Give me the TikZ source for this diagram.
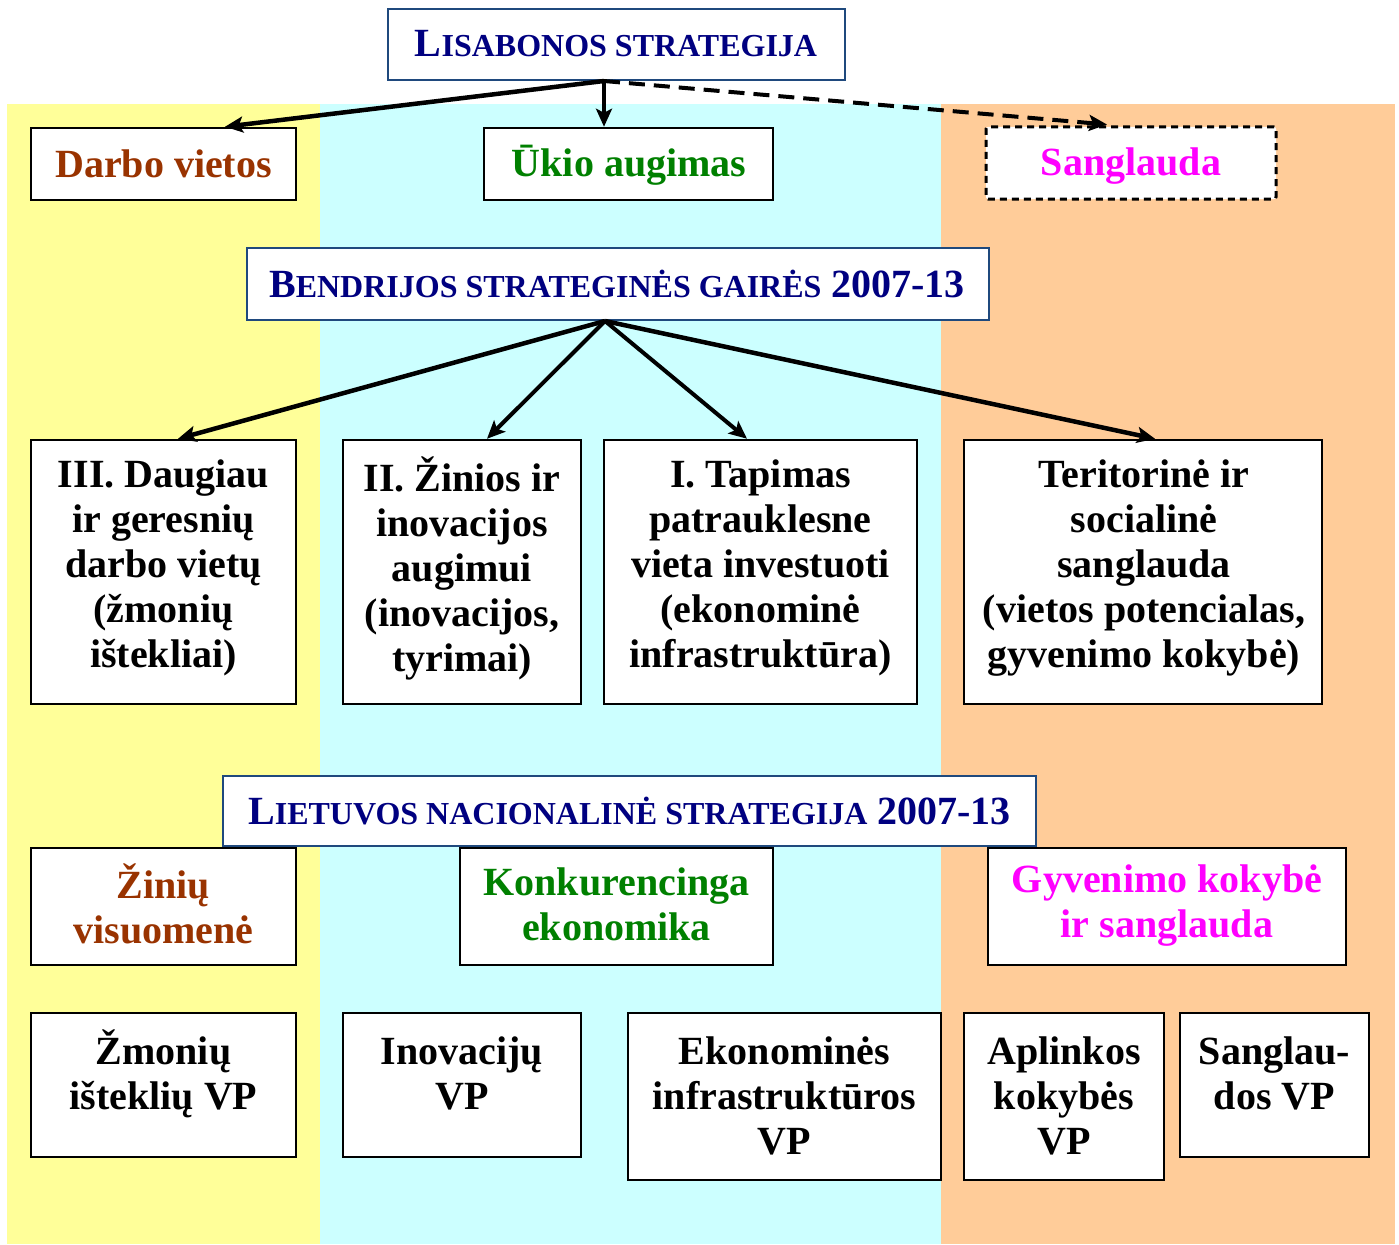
\documentclass[tikz,border=0pt]{standalone}
\usepackage{fontspec}
\setmainfont{Liberation Serif}
\usetikzlibrary{arrows.meta}
\definecolor{bgy}{RGB}{255,255,153}
\definecolor{bgc}{RGB}{204,255,255}
\definecolor{bgo}{RGB}{255,204,153}
\definecolor{navyt}{RGB}{0,0,128}
\definecolor{tbord}{RGB}{31,73,125}
\definecolor{brn}{RGB}{153,51,0}
\definecolor{grn}{RGB}{0,128,0}
\definecolor{mag}{RGB}{255,0,255}
\newcommand\scT[1]{{\fontsize{32}{32}\selectfont #1}}
\newcommand\bx[6]{\node[#1, minimum width={#4-#2}, minimum height={#5-#3}] (#6) at ({(#2+#4)/2},{(#3+#5)/2}) {};}
\begin{document}
\begin{tikzpicture}[x=1pt,y=-1pt,
 box/.style={draw=black, line width=2.5pt, fill=white, inner sep=0pt},
 tbox/.style={draw=tbord, line width=2pt, fill=white, inner sep=0pt},
 dbox/.style={draw=black, line width=3pt, fill=white, inner sep=0pt, dash pattern=on 7pt off 5pt, rounded corners=2pt},
 txt/.style={font=\fontsize{40}{45}\selectfont\bfseries, align=center, inner sep=0pt},
 ttl/.style={font=\fontsize{40}{45}\selectfont\bfseries, text=navyt, inner sep=0pt},
 arr/.style={line width=4.5pt, -{Stealth[length=18pt,width=16pt,inset=4pt]}},
]
\useasboundingbox (0,0) rectangle (1399,1244);
\fill[white] (0,0) rectangle (1399,1244);
% background bands
\fill[bgy] (7,104) rectangle (320,1244);
\fill[bgc] (320,104) rectangle (941,1244);
\fill[bgo] (941,104) rectangle (1395,1244);

% boxes
\bx{tbox}{388}{9}{845}{80}{lis}
\bx{box}{31}{128}{296}{200}{darbo}
\bx{box}{484}{128}{773}{200}{ukio}
\bx{dbox}{986}{127}{1276}{199}{sang}
\bx{tbox}{247}{248}{989}{320}{bend}
\bx{box}{31}{440}{296}{704}{iii}
\bx{box}{343}{440}{581}{704}{ii}
\bx{box}{604}{440}{917}{704}{ione}
\bx{box}{964}{440}{1322}{704}{teri}
\bx{tbox}{223}{776}{1036}{846}{liet}
\bx{box}{31}{848}{296}{965}{zin}
\bx{box}{460}{848}{773}{965}{konk}
\bx{box}{988}{848}{1346}{965}{gyv}
\bx{box}{31}{1013}{296}{1157}{zmon}
\bx{box}{343}{1013}{581}{1157}{inov}
\bx{box}{628}{1013}{941}{1180}{ekon}
\bx{box}{964}{1013}{1164}{1180}{apl}
\bx{box}{1180}{1013}{1369}{1157}{sgvp}

% texts
\node[ttl] (list) at (616,44) {L\scT{ISABONOS STRATEGIJA}};
\node[txt, text=brn] (darbot) at (163.5,164) {Darbo vietos};
\node[txt, text=grn] (ukiot) at (629,165.5) {Ūkio augimas};
\node[txt, text=mag] (sangt) at (1131,166) {Sanglauda};
\node[ttl] (bendt) at (617,284) {B\scT{ENDRIJOS STRATEGINĖS GAIRĖS} 2007-13};
\node[txt] (iiit) at (163.5,568) {III. Daugiau\\ir geresnių\\darbo vietų\\(žmonių\\ištekliai)};
\node[txt] (iit) at (462,568) {II. Žinios ir\\inovacijos\\augimui\\(inovacijos,\\tyrimai)};
\node[txt] (ionet) at (760.5,568) {I. Tapimas\\patrauklesne\\vieta investuoti\\(ekonominė\\infrastruktūra)};
\node[txt] (terit) at (1144,568) {Teritorinė ir\\socialinė\\sanglauda\\(vietos potencialas,\\gyvenimo kokybė)};
\node[ttl] (lietT) at (629.5,811) {L\scT{IETUVOS NACIONALINĖ STRATEGIJA} 2007-13};
\node[txt, text=brn] (zint) at (163.5,904) {Žinių\\visuomenė};
\node[txt, text=grn] (konkt) at (616.5,904) {Konkurencinga\\ekonomika};
\node[txt, text=mag] (gyvt) at (1167,906) {Gyvenimo kokybė\\ir sanglauda};
\node[txt] (zmont) at (163.5,1073.5) {Žmonių\\išteklių VP};
\node[txt] (inovt) at (462,1073.5) {Inovacijų\\VP};
\node[txt] (ekont) at (784.5,1096) {Ekonominės\\infrastruktūros\\VP};
\node[txt] (aplt) at (1064,1096) {Aplinkos\\kokybės\\VP};
\node[txt] (sgvpt) at (1274.5,1073.5) {Sanglau-\\dos VP};

% arrows
\draw[arr] ([xshift=-12.5pt]lis.south) -- ([xshift=61.5pt]darbo.north);
\draw[arr] ([xshift=-12.5pt]lis.south) -- ([xshift=-24.5pt]ukio.north);
\draw[arr, line width=4pt, dash pattern=on 16pt off 9pt] ([xshift=-12.5pt]lis.south) -- ([xshift=-24pt,yshift=1pt]sang.north);
\draw[arr] ([xshift=-13pt]bend.south) -- ([xshift=14.5pt]iii.north);
\draw[arr, line width=4pt] ([xshift=-13pt]bend.south) -- ([xshift=25pt]ii.north);
\draw[arr, line width=4pt] ([xshift=-13pt]bend.south) -- ([xshift=-13.5pt]ione.north);
\draw[arr] ([xshift=-13pt]bend.south) -- ([xshift=12pt]teri.north);
\end{tikzpicture}
\end{document}
